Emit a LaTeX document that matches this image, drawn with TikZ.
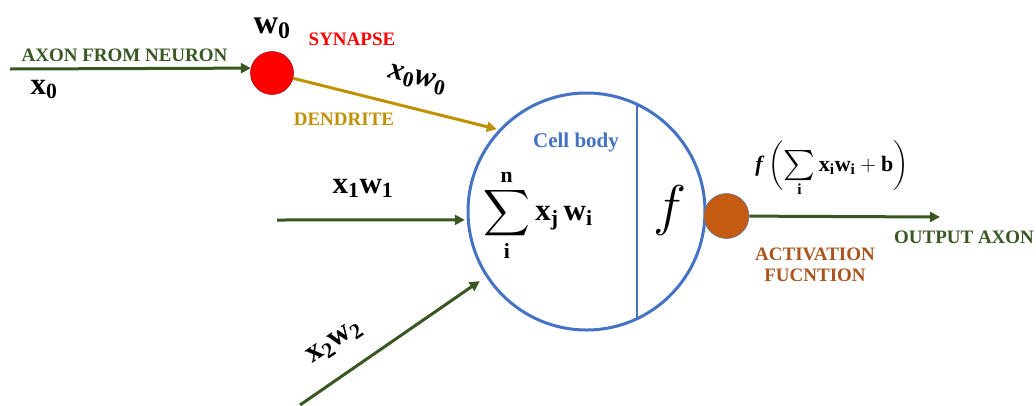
\RequirePackage{fix-cm}
\documentclass[tikz,border=0pt]{standalone}
\usepackage{amsmath}
\usepackage{graphicx}
\usepackage{fontspec}
\setmainfont{Liberation Serif}
\usetikzlibrary{arrows.meta}
\definecolor{agreen}{RGB}{56,87,35}
\definecolor{gold}{RGB}{191,144,0}
\definecolor{cblue}{RGB}{68,114,196}
\definecolor{synred}{RGB}{255,0,0}
\definecolor{actorange}{RGB}{197,90,17}
\definecolor{actbrown}{RGB}{170,84,28}
\begin{document}
\begin{tikzpicture}[x=1pt,y=-1pt,
  lab/.style={font=\bfseries\fontsize{19}{21}\selectfont, inner sep=0},
  mlab/.style={font=\fontsize{31}{34}\selectfont, inner sep=0},
  conn/.style={line width=3pt, -{Triangle[length=10pt,width=10pt]}},
]
\useasboundingbox (0,0) rectangle (1036,405);
% cell body
\node[circle, draw=cblue, line width=3pt, minimum size=237pt, inner sep=0] (cell) at (586.5,211.5) {};
\draw[cblue, line width=2.5pt] (cell.65.8) -- (cell.-65.8);
% synapse and activation
\node[circle, fill=synred, draw=red!60!black, line width=0.5pt, minimum size=43pt, inner sep=0] (syn) at (272,73) {};
\node[circle, fill=actorange, draw=cblue!50!gray, line width=0.6pt, minimum size=45pt, inner sep=0] (act) at (726.5,216) {};
% free ends
\coordinate (in0) at (10,69);
\coordinate (in1) at (277,220);
\coordinate (in2) at (300,405);
\coordinate (out) at (940,217);
% connectors
\draw[conn, agreen] (in0) -- (syn.167);
\draw[conn, gold, shorten >=2pt] (syn) -- (cell.137);
\draw[conn, agreen, shorten >=2pt] (in1) -- (cell.184);
\draw[conn, agreen, shorten >=7.5pt] (in2) -- (cell.213.5);
\draw[conn, agreen] (act) -- (out);
% labels
\node[lab, agreen, anchor=base] (tAxon) at (124.5,61) {AXON FROM NEURON};
\node[mlab, anchor=base] (tx0) at (44,94) {$\mathbf{x_0}$};
\node[mlab, anchor=base, font=\fontsize{34}{36}\selectfont] (tw0) at (272,33) {$\mathbf{w_0}$};
\node[lab, synred, anchor=base] (tSyn) at (352,45) {SYNAPSE};
\node[mlab, rotate=-13] (tx0w0) at (417,80) {\bfseries\itshape x$_{\mathbf{0}}$w$_{\mathbf{0}}$};
\node[lab, gold, anchor=base] (tDen) at (344,125) {DENDRITE};
\node[lab, cblue, anchor=base, font=\bfseries\fontsize{21}{24}\selectfont] (tCell) at (576,147) {Cell body};
\node[mlab, anchor=base] (tx1w1) at (363,193) {$\mathbf{x_1w_1}$};
\node[mlab, rotate=34] (tx2w2) at (335,343) {$\mathbf{x_2w_2}$};
\node[mlab, font=\fontsize{31}{34}\selectfont] (tsum) at (538,215)
  {$\displaystyle\mathop{\vcenter{\hbox{\scalebox{1.3}{$\displaystyle\sum$}}}}\limits_{\mathbf{i}}^{\mathbf{n}}\mathbf{x_j\,w_i}$};
\node[inner sep=0, font=\fontsize{56}{60}\selectfont] (tf) at (670,210) {$f$};
\node[inner sep=0, font=\fontsize{22}{24}\selectfont] (tform) at (832,168)
  {$\textbf{\textit{f}}\,\biggl(\mathop{\vcenter{\hbox{\scalebox{1.45}{$\sum$}}}}\limits_{\mathbf{i}}\mathbf{x_i w_i}+\mathbf{b}\biggr)$};
\node[lab, agreen, anchor=base] (tOut) at (964,243) {OUTPUT AXON};
\node[lab, actbrown, align=center, anchor=north] (tAct) at (815,248) {ACTIVATION\\FUCNTION};
\end{tikzpicture}
\end{document}
